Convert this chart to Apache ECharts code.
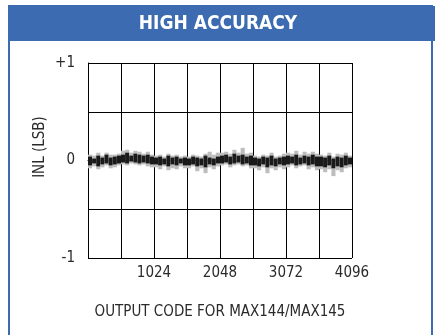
<!DOCTYPE html>
<html>
<head>
<meta charset="utf-8">
<script src="https://cdn.jsdelivr.net/npm/echarts@6/dist/echarts.min.js"></script>
<style>
  html, body { margin: 0; padding: 0; background: #fff; }
  #chart { width: 435px; height: 335px; }
</style>
</head>
<body>
<div id="chart"></div>
<script>
// code buckets, 64 codes each, 0..4032
var bucketSize = 64;
var xTickLabels = ['1024', '2048', '3072', '4096'];
var yTickLabels = {'-1': '-1', '0': '0', '1': '+1'};

// INL spread per bucket (LSB)
var coreHi = [
    0.04, 0.02, 0.05, 0.03, 0.06, 0.03, 0.04, 0.05,
    0.06, 0.08, 0.05, 0.07, 0.06, 0.05, 0.06, 0.04,
    0.03, 0.04, 0.02, 0.05, 0.03, 0.04, 0.02, 0.03,
    0.02, 0.04, 0.03, 0.02, 0.05, 0.03, 0.02, 0.04,
    0.05, 0.06, 0.04, 0.07, 0.05, 0.06, 0.04, 0.05,
    0.03, 0.02, 0.04, 0.03, 0.05, 0.02, 0.03, 0.04,
    0.05, 0.04, 0.06, 0.03, 0.05, 0.04, 0.06, 0.04,
    0.04, 0.03, 0.05, 0.02, 0.04, 0.03, 0.05, 0.03
];
var coreLo = [
    -0.05, -0.03, -0.06, -0.04, -0.03, -0.05, -0.04, -0.03,
    -0.02, -0.03, -0.01, -0.02, -0.03, -0.02, -0.03, -0.04,
    -0.04, -0.05, -0.04, -0.06, -0.04, -0.05, -0.03, -0.05,
    -0.05, -0.04, -0.06, -0.05, -0.07, -0.04, -0.05, -0.03,
    -0.03, -0.02, -0.04, -0.03, -0.02, -0.04, -0.03, -0.05,
    -0.05, -0.06, -0.04, -0.07, -0.05, -0.06, -0.04, -0.05,
    -0.04, -0.03, -0.05, -0.04, -0.03, -0.05, -0.04, -0.06,
    -0.06, -0.07, -0.05, -0.08, -0.06, -0.07, -0.05, -0.04
];
var greyHi = [
    0.06, 0.05, 0.08, 0.05, 0.08, 0.06, 0.06, 0.07,
    0.10, 0.11, 0.08, 0.10, 0.09, 0.07, 0.09, 0.06,
    0.05, 0.06, 0.04, 0.07, 0.05, 0.06, 0.04, 0.05,
    0.04, 0.06, 0.05, 0.04, 0.07, 0.09, 0.06, 0.08,
    0.08, 0.09, 0.07, 0.11, 0.08, 0.13, 0.07, 0.08,
    0.05, 0.04, 0.06, 0.05, 0.08, 0.04, 0.05, 0.07,
    0.08, 0.07, 0.10, 0.06, 0.09, 0.07, 0.09, 0.07,
    0.06, 0.05, 0.08, 0.04, 0.07, 0.06, 0.08, 0.05
];
var greyLo = [
    -0.08, -0.06, -0.09, -0.07, -0.05, -0.08, -0.07, -0.05,
    -0.04, -0.05, -0.03, -0.04, -0.05, -0.04, -0.06, -0.07,
    -0.07, -0.09, -0.06, -0.10, -0.08, -0.09, -0.06, -0.08,
    -0.08, -0.06, -0.11, -0.08, -0.13, -0.07, -0.09, -0.06,
    -0.05, -0.04, -0.07, -0.05, -0.04, -0.06, -0.05, -0.08,
    -0.08, -0.10, -0.07, -0.13, -0.08, -0.10, -0.07, -0.09,
    -0.07, -0.05, -0.08, -0.06, -0.05, -0.09, -0.07, -0.10,
    -0.09, -0.12, -0.09, -0.16, -0.10, -0.12, -0.08, -0.07
];

var font = "'DejaVu Sans Condensed', 'Liberation Sans Narrow', Arial, sans-serif";
var blue = '#3c6bb1';

var seriesData = [];
for (var i = 0; i < coreHi.length; i++) {
    seriesData.push([i * bucketSize, greyLo[i], greyHi[i], coreLo[i], coreHi[i]]);
}

// grey halo behind a dark core, one block per code bucket
function renderItem(params, api) {
    var x0 = api.value(0);
    var x1 = x0 + bucketSize;
    var gTop = api.coord([x0, api.value(2)]);
    var gBot = api.coord([x1, api.value(1)]);
    var cTop = api.coord([x0, api.value(4)]);
    var cBot = api.coord([x1, api.value(3)]);
    return {
        type: 'group',
        children: [
            {
                type: 'rect',
                shape: {x: gTop[0], y: gTop[1], width: gBot[0] - gTop[0], height: gBot[1] - gTop[1]},
                style: {fill: '#bdbdbd'}
            },
            {
                type: 'rect',
                shape: {x: cTop[0], y: cTop[1], width: cBot[0] - cTop[0], height: cBot[1] - cTop[1]},
                style: {fill: '#1a1a1a'}
            }
        ]
    };
}

var myChart = echarts.init(document.getElementById('chart'));

var option = {
    backgroundColor: '#fff',
    animation: false,
    graphic: [
        {
            type: 'rect',
            shape: {x: 9, y: 6, width: 423, height: 340},
            style: {fill: 'none', stroke: blue, lineWidth: 2}
        },
        {
            type: 'rect',
            shape: {x: 8, y: 6, width: 427, height: 35},
            style: {fill: blue}
        },
        {
            type: 'text',
            x: 218, y: 24,
            style: {
                text: 'HIGH ACCURACY', fill: '#fff', font: 'bold 19px ' + font,
                align: 'center', verticalAlign: 'middle'
            }
        },
        {
            type: 'text',
            x: 40, y: 147,
            rotation: Math.PI / 2,
            style: {
                text: 'INL (LSB)', fill: '#2a2a2a', font: '15px ' + font,
                align: 'center', verticalAlign: 'middle'
            }
        }
    ],
    grid: {left: 88, top: 63, width: 264, height: 195},
    xAxis: {
        type: 'value',
        min: 0,
        max: 4096,
        interval: 512,
        name: 'OUTPUT CODE FOR MAX144/MAX145',
        nameLocation: 'middle',
        nameGap: 47,
        nameTextStyle: {color: '#2a2a2a', fontSize: 15, fontFamily: font},
        axisLine: {show: true, lineStyle: {color: '#000', width: 1}},
        axisTick: {show: false},
        axisLabel: {
            color: '#2a2a2a', fontSize: 15, fontFamily: font, margin: 8,
            formatter: function (v) {
                var s = String(v);
                return xTickLabels.indexOf(s) >= 0 ? s : '';
            }
        },
        splitLine: {show: true, lineStyle: {color: '#000', width: 1}}
    },
    yAxis: {
        type: 'value',
        min: -1,
        max: 1,
        interval: 0.5,
        axisLine: {show: true, lineStyle: {color: '#000', width: 1}},
        axisTick: {show: false},
        axisLabel: {
            color: '#2a2a2a', fontSize: 15, fontFamily: font, margin: 13,
            formatter: function (v) {
                return yTickLabels[String(v)] || '';
            }
        },
        splitLine: {show: true, lineStyle: {color: '#000', width: 1}}
    },
    series: [
        {
            type: 'custom',
            renderItem: renderItem,
            clip: true,
            encode: {x: 0, y: [1, 2, 3, 4]},
            data: seriesData
        }
    ]
};

myChart.setOption(option);
</script>
</body>
</html>
